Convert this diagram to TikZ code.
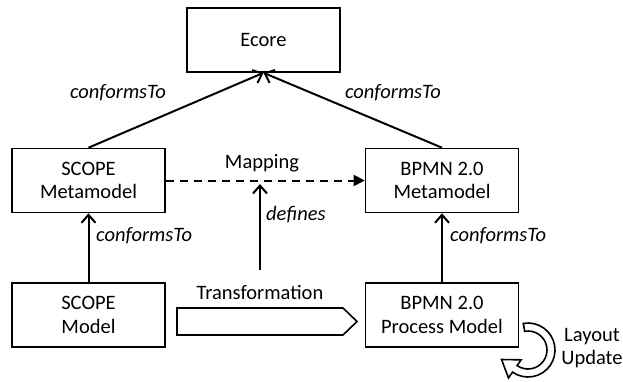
\documentclass[tikz,border=0pt]{standalone}
\usepackage{fontspec}
\setmainfont{Carlito}
\usetikzlibrary{arrows.meta,calc}
\begin{document}
\begin{tikzpicture}[x=1pt,y=-1pt,
  box/.style={draw,line width=1.6pt,minimum width=153pt,minimum height=64pt,align=center,inner sep=0pt,font=\fontsize{20.5}{23.5}\selectfont},
  lbl/.style={font=\fontsize{20.5}{23.5}\selectfont\itshape,inner sep=0pt},
  txt/.style={font=\fontsize{20.5}{23.5}\selectfont,inner sep=0pt,align=center},
  conf/.style={line width=2pt,-{Straight Barb[length=8pt,width=14pt,line width=2pt]}},
  maparrow/.style={line width=2pt,dash pattern=on 8pt off 6pt,-{Triangle[length=11pt,width=11pt]}},
  block/.style={draw,line width=1.6pt,fill=white,line join=miter},
]
\useasboundingbox (0,0) rectangle (623,381);

\node[box] (ecore) at (263.5,40) {Ecore};
\node[box] (smm) at (88.5,180.5) {SCOPE\\Metamodel};
\node[box] (bmm) at (442,180.5) {BPMN 2.0\\Metamodel};
\node[box] (sm) at (88.5,315) {SCOPE\\Model};
\node[box] (bpm) at (442,315) {BPMN 2.0\\Process Model};

\draw[conf] (smm.north) -- (ecore.south);
\draw[conf] (bmm.north) -- (ecore.south);
\node[lbl] (c1) at (118,93) {conformsTo};
\node[lbl] (c2) at (393,93) {conformsTo};

\draw[maparrow] (smm.east) -- (bmm.west);
\node[txt] (mapping) at (262,163) {Mapping};

\coordinate (defbot) at (260,270);
\coordinate (deftop) at (260,184);
\draw[conf] (defbot) -- (deftop);
\node[lbl,anchor=west] (defines) at (266,215) {defines};

\draw[conf] (sm.north) -- (smm.south);
\node[lbl,anchor=west] (c3) at (96,236) {conformsTo};
\draw[conf] (bpm.north) -- (bmm.south);
\node[lbl,anchor=west] (c4) at (450,236) {conformsTo};

\node[txt] (trans) at (260,292) {Transformation};
\draw[block] (177,308) -- (343,308) -- (357,321.5) -- (343,335) -- (177,335) -- cycle;

\coordinate (C) at (528,350);
\draw[block] ($(C)+(-100:27)$) arc[start angle=-100,end angle=125,radius=27]
  -- ($(C)+(125:34)$) -- (501.5,359.5) -- ($(C)+(125:12)$) -- ($(C)+(125:19)$)
  arc[start angle=125,end angle=-100,radius=19] -- cycle;
\node[txt] (layout) at (592,348) {Layout\\Update};
\end{tikzpicture}
\end{document}
